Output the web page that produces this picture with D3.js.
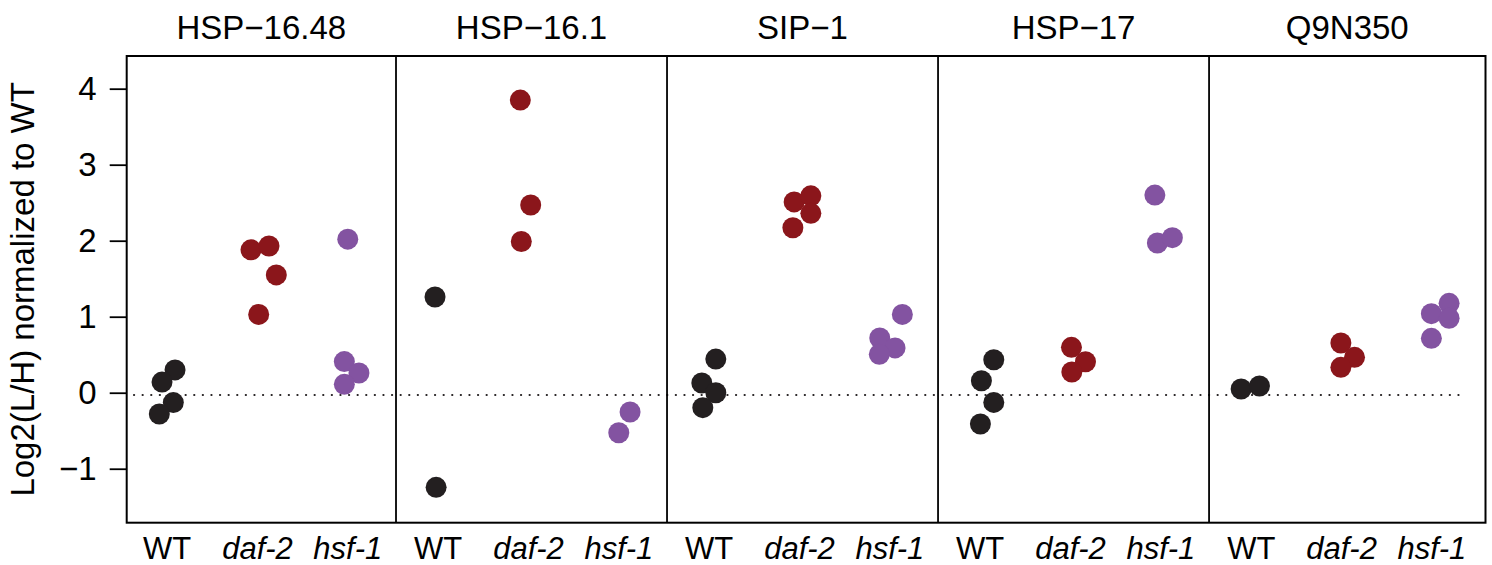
<!DOCTYPE html>
<html>
<head>
<meta charset="utf-8">
<script src="https://cdn.jsdelivr.net/npm/d3@7"></script>
<style>
  html, body { margin: 0; padding: 0; background: #fff; }
  svg { display: block; font-family: "Liberation Sans", Arial, Helvetica, sans-serif; }
</style>
</head>
<body>
<svg id="chart" width="1492" height="565"></svg>
<script>
// Proteins (one panel each) and strains (one column per panel)
const proteins = ["HSP−16.48", "HSP−16.1", "SIP−1", "HSP−17", "Q9N350"];
const strains = ["WT", "daf-2", "hsf-1"];
const strainItalic = [false, true, true];

// Log2(L/H) normalized to WT, one inner array per strain (WT, daf-2, hsf-1)
const hsp1648Values = [[0.30, 0.14, -0.13, -0.28], [1.88, 1.93, 1.55, 1.03], [2.02, 0.41, 0.26, 0.11]];
const hsp161Values  = [[1.26, -1.245], [3.85, 2.47, 1.99], [-0.254, -0.526]];
const sip1Values    = [[0.443, 0.128, 0.0, -0.197], [2.51, 2.59, 2.36, 2.17], [1.03, 0.72, 0.59, 0.505]];
const hsp17Values   = [[0.434, 0.158, -0.127, -0.412], [0.597, 0.408, 0.272], [2.60, 1.97, 2.04]];
const q9n350Values  = [[0.049, 0.088], [0.654, 0.466, 0.334], [1.176, 1.04, 0.98, 0.716]];

// Horizontal jitter of each replicate, in column units
const hsp1648Jitter = [[0.054, -0.09, 0.035, -0.12], [-0.105, 0.094, 0.175, -0.02], [-0.034, -0.072, 0.09, -0.072]];
const hsp161Jitter  = [[-0.068, -0.056], [-0.124, -0.009, -0.113], [0.091, -0.034]];
const sip1Jitter    = [[0.04, -0.115, 0.04, -0.104], [-0.093, 0.092, 0.092, -0.107], [0.105, -0.145, 0.024, -0.15]];
const hsp17Jitter   = [[0.117, -0.02, 0.117, -0.031], [-0.023, 0.132, -0.019], [-0.1, -0.072, 0.094]];
const q9n350Jitter  = [[-0.145, 0.058], [-0.041, 0.11, -0.041], [0.157, -0.039, 0.157, -0.039]];

const yTicks = [-1, 0, 1, 2, 3, 4];
const referenceLevel = -0.03;

const panelValues = [hsp1648Values, hsp161Values, sip1Values, hsp17Values, q9n350Values];
const panelJitter = [hsp1648Jitter, hsp161Jitter, sip1Jitter, hsp17Jitter, q9n350Jitter];

const strainColors = ["#231f20", "#8b161b", "#8353a1"];

// Flatten into one record per replicate
const points = [];
panelValues.forEach((groups, p) => {
  groups.forEach((vals, s) => {
    vals.forEach((v, i) => {
      points.push({ panel: p, strain: s, value: v, jitter: panelJitter[p][s][i] });
    });
  });
});

const svg = d3.select("#chart");
const plot = { left: 126.7, right: 1485.5, top: 56, bottom: 522.7 };
const fontSize = 33;
const labelFontSize = 31;

// Columns are numbered 1..15 across all panels
const slot = (p, s) => p * strains.length + s + 1;
const x = d3.scaleLinear().domain([0.519, 15.56]).range([plot.left, plot.right]);
const y = d3.scaleLinear().domain([-1.71, 4.43]).range([plot.bottom, plot.top]);

// Reference line
svg.append("line")
  .attr("x1", x(0.6)).attr("x2", x(15.35))
  .attr("y1", y(referenceLevel)).attr("y2", y(referenceLevel))
  .attr("stroke", "#231f20")
  .attr("stroke-width", 2.2)
  .attr("stroke-linecap", "round")
  .attr("stroke-dasharray", "0.1,8.5");

// Replicate points
svg.append("g").selectAll("circle")
  .data(points)
  .join("circle")
  .attr("cx", d => x(slot(d.panel, d.strain) + d.jitter))
  .attr("cy", d => y(d.value))
  .attr("r", 10.5)
  .attr("fill", d => strainColors[d.strain]);

// Panel dividers
const dividers = d3.range(1, proteins.length).map(p => p * strains.length + 0.5);
svg.append("g").selectAll("line")
  .data(dividers)
  .join("line")
  .attr("x1", d => x(d)).attr("x2", d => x(d))
  .attr("y1", plot.top).attr("y2", plot.bottom)
  .attr("stroke", "#000").attr("stroke-width", 1.8);

// Frame
svg.append("rect")
  .attr("x", plot.left).attr("y", plot.top)
  .attr("width", plot.right - plot.left).attr("height", plot.bottom - plot.top)
  .attr("fill", "none").attr("stroke", "#000").attr("stroke-width", 2);

// Y axis
const yAxis = svg.append("g")
  .attr("transform", `translate(${plot.left},0)`)
  .call(d3.axisLeft(y).tickValues(yTicks).tickSize(17).tickPadding(13).tickFormat(d3.format("d")));
yAxis.select(".domain").remove();
yAxis.selectAll(".tick line").attr("stroke", "#000").attr("stroke-width", 1.8);
yAxis.selectAll(".tick text")
  .attr("font-size", fontSize)
  .attr("font-family", "Liberation Sans, Arial, sans-serif")
  .attr("fill", "#000");

svg.append("text")
  .attr("transform", `translate(34,${(plot.top + plot.bottom) / 2}) rotate(-90)`)
  .attr("text-anchor", "middle")
  .attr("font-size", fontSize)
  .attr("fill", "#000")
  .text("Log2(L/H) normalized to WT");

// Panel titles
svg.append("g").selectAll("text")
  .data(proteins)
  .join("text")
  .attr("x", (d, p) => {
    const lo = p === 0 ? plot.left : x(dividers[p - 1]);
    const hi = p === proteins.length - 1 ? plot.right : x(dividers[p]);
    return (lo + hi) / 2;
  })
  .attr("y", 39)
  .attr("text-anchor", "middle")
  .attr("font-size", fontSize)
  .attr("fill", "#000")
  .text(d => d);

// Strain labels under every column
const strainLabels = [];
proteins.forEach((_, p) => strains.forEach((s, i) => strainLabels.push({ p, i, s })));
svg.append("g").selectAll("text")
  .data(strainLabels)
  .join("text")
  .attr("x", d => x(slot(d.p, d.i)) - 3)
  .attr("y", 559)
  .attr("text-anchor", "middle")
  .attr("font-size", labelFontSize)
  .attr("font-style", d => strainItalic[d.i] ? "italic" : "normal")
  .attr("fill", "#000")
  .text(d => d.s);
</script>
</body>
</html>
